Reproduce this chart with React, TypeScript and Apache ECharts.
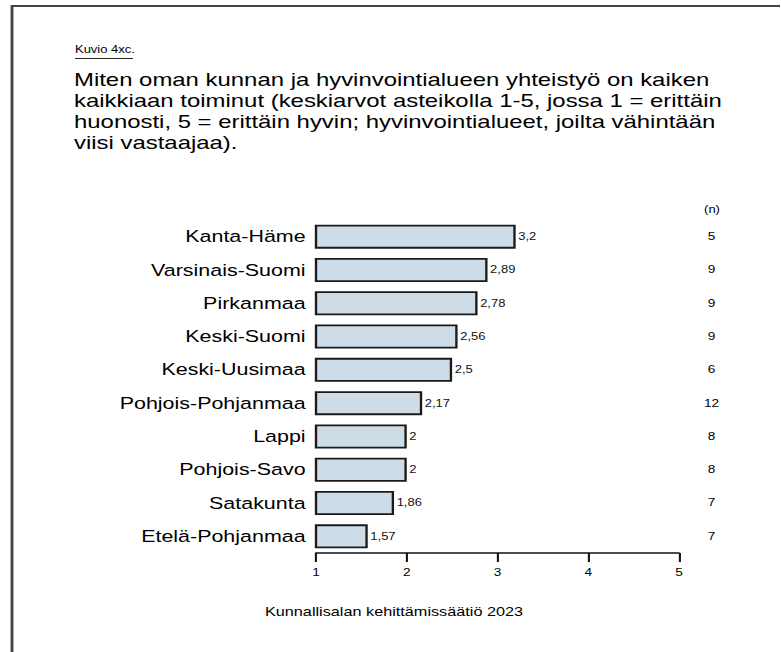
import React, { useEffect, useRef } from "react";
import * as echarts from "echarts";

const categories = [
  "Kanta-Häme",
  "Varsinais-Suomi",
  "Pirkanmaa",
  "Keski-Suomi",
  "Keski-Uusimaa",
  "Pohjois-Pohjanmaa",
  "Lappi",
  "Pohjois-Savo",
  "Satakunta",
  "Etelä-Pohjanmaa",
];
const values = [3.2, 2.89, 2.78, 2.56, 2.5, 2.17, 2, 2, 1.86, 1.57];
const nValues = [5, 9, 9, 9, 6, 12, 8, 8, 7, 7];
const axisMin = 1;
const axisMax = 5;

const kuvioText = "Kuvio 4xc.";
const titleText =
  "Miten oman kunnan ja hyvinvointialueen yhteistyö on kaiken\n" +
  "kaikkiaan toiminut (keskiarvot asteikolla 1-5, jossa 1 = erittäin\n" +
  "huonosti, 5 = erittäin hyvin; hyvinvointialueet, joilta vähintään\n" +
  "viisi vastaajaa).";
const footerText = "Kunnallisalan kehittämissäätiö 2023";
const nHeader = "(n)";

const FONT = "'Liberation Sans', Arial, sans-serif";
const S = 1.3; // horizontal stretch of the reference
const W = 600;
const H = 652;

export default function App() {
  const ref = useRef<HTMLDivElement>(null);
  useEffect(() => {
    if (!ref.current) return;
    const chart = echarts.init(ref.current, null, { renderer: "svg" });
    const fmt = (v: number) => String(v).replace(".", ",");
    chart.setOption({
      animation: false,
      backgroundColor: "#fff",
      grid: { left: 316 / S, right: W - 679 / S, top: 220, bottom: H - 553, containLabel: false },
      xAxis: {
        type: "value",
        min: axisMin,
        max: axisMax,
        interval: 1,
        axisLine: { show: true, lineStyle: { color: "#111", width: 1.6 } },
        axisTick: { show: true, length: 9, lineStyle: { color: "#111", width: 1.6 } },
        axisLabel: { fontSize: 10.5, color: "#000", margin: 14, fontFamily: FONT },
        splitLine: { show: false },
      },
      yAxis: [
        {
          type: "category",
          data: categories,
          inverse: true,
          axisLine: { show: false },
          axisTick: { show: false },
          axisLabel: { fontSize: 16.5, color: "#000", margin: 8, fontFamily: FONT },
        },
        {
          type: "category",
          data: nValues.map(String),
          inverse: true,
          position: "right",
          axisLine: { show: false },
          axisTick: { show: false },
          axisLabel: { fontSize: 10.5, color: "#000", margin: 25, align: "center", fontFamily: FONT },
        },
      ],
      series: [
        {
          type: "bar",
          data: values,
          yAxisIndex: 0,
          barWidth: 24,
          itemStyle: { color: "#cddce7", borderColor: "#1a1a1a", borderWidth: 1.8 },
          label: {
            show: true,
            position: "right",
            distance: 2,
            formatter: (p: any) => fmt(p.value),
            fontSize: 10,
            color: "#111",
            fontFamily: FONT,
          },
        },
      ],
      graphic: [
        {
          type: "rect",
          shape: { x: 12 / S, y: 6, width: 800, height: 900 },
          style: { fill: "none", stroke: "#444", lineWidth: 2.2 },
          silent: true,
        },
        {
          type: "text",
          x: 75 / S,
          y: 45,
          style: { text: kuvioText, fontSize: 10, fontFamily: FONT, fill: "#000", textVerticalAlign: "top" },
        },
        {
          type: "line",
          shape: { x1: 75 / S, y1: 58.5, x2: 133 / S, y2: 58.5 },
          style: { stroke: "#222", lineWidth: 1.2 },
        },
        {
          type: "text",
          x: 74 / S,
          y: 69.5,
          style: {
            text: titleText,
            fontSize: 18.4,
            lineHeight: 21,
            fontFamily: FONT,
            fill: "#000",
            textVerticalAlign: "top",
          },
        },
        {
          type: "text",
          x: 712 / S,
          y: 210,
          style: {
            text: nHeader,
            fontSize: 10,
            fontFamily: FONT,
            fill: "#000",
            textAlign: "center",
            textVerticalAlign: "middle",
          },
        },
        {
          type: "text",
          x: 394 / S,
          y: 612,
          style: {
            text: footerText,
            fontSize: 12.5,
            fontFamily: FONT,
            fill: "#000",
            textAlign: "center",
            textVerticalAlign: "middle",
          },
        },
      ],
    });
    return () => chart.dispose();
  }, []);
  return (
    <div
      ref={ref}
      style={{
        position: "absolute",
        left: 0,
        top: 0,
        width: W,
        height: H,
        transform: `scaleX(${S})`,
        transformOrigin: "0 0",
      }}
    />
  );
}
